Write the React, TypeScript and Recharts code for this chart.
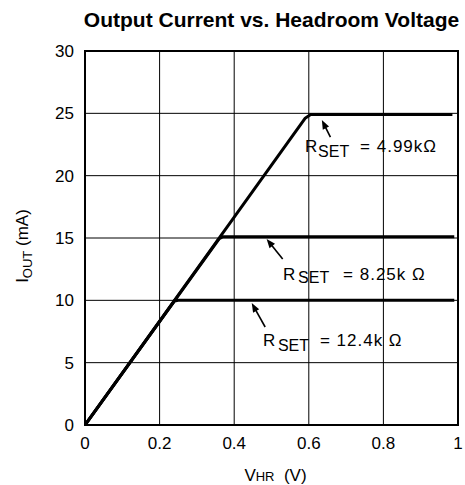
import React from 'react';
import {
  LineChart,
  Line,
  XAxis,
  YAxis,
  CartesianGrid,
  ReferenceArea,
  ReferenceLine,
  ReferenceDot,
} from 'recharts';

const FONT = '"Liberation Sans", Arial, Helvetica, sans-serif';

// Axis ticks
const xTicks = [0, 0.2, 0.4, 0.6, 0.8, 1];
const yTicks = [0, 5, 10, 15, 20, 25, 30];

// Series: headroom voltage (V) vs output current (mA)
const rset499 = [
  { v: 0, i: 0 },
  { v: 0.59, i: 24.6 },
  { v: 0.605, i: 24.9 },
  { v: 0.985, i: 24.9 },
];
const rset825 = [
  { v: 0, i: 0 },
  { v: 0.36, i: 14.95 },
  { v: 0.37, i: 15.1 },
  { v: 0.99, i: 15.1 },
];
const rset124 = [
  { v: 0, i: 0 },
  { v: 0.24, i: 9.95 },
  { v: 0.25, i: 10.0 },
  { v: 0.99, i: 10.0 },
];

// Annotation texts
const annValues = ['= 4.99k\u03A9', '= 8.25k \u03A9', '= 12.4k \u03A9'];
// Annotation anchors in data units
const annText = [
  { v: 0.59, i: 21.9 },
  { v: 0.531, i: 11.63 },
  { v: 0.477, i: 6.33 },
];
const annTail = [
  { v: 0.658, i: 23.1 },
  { v: 0.53, i: 13.31 },
  { v: 0.483, i: 7.86 },
];
const annTip = [
  { v: 0.635, i: 24.46 },
  { v: 0.487, i: 14.92 },
  { v: 0.447, i: 9.78 },
];
const annSetDx = [13, 15, 15];
const annEqDx = [55, 60, 57];
const annSetDy = [5, 3, 5];

const Arrow = (props: any) => {
  const { x1, y1, x2, y2 } = props;
  const dx = x2 - x1;
  const dy = y2 - y1;
  const len = Math.hypot(dx, dy) || 1;
  const ux = dx / len;
  const uy = dy / len;
  const hl = 9;
  const hw = 3.5;
  const bx = x2 - ux * hl;
  const by = y2 - uy * hl;
  const px = -uy;
  const py = ux;
  return (
    <g>
      <line x1={x1} y1={y1} x2={bx + ux * 2} y2={by + uy * 2} stroke="#000" strokeWidth={1.6} />
      <polygon
        points={`${x2},${y2} ${bx + px * hw},${by + py * hw} ${bx - px * hw},${by - py * hw}`}
        fill="#000"
      />
    </g>
  );
};

const makeAnnText = (idx: number) => (props: any) => {
  const { cx, cy } = props;
  return (
    <text fontFamily={FONT} fontSize={17} fill="#000">
      <tspan x={cx} y={cy}>R</tspan>
      <tspan x={cx + annSetDx[idx]} y={cy + annSetDy[idx]} fontSize={16}>SET</tspan>
      <tspan x={cx + annEqDx[idx]} y={cy} letterSpacing={1}>{annValues[idx]}</tspan>
    </text>
  );
};

const YLabel = (props: any) => {
  const vb = props.viewBox || {};
  const x = (vb.x ?? 0) + 28;
  const y = 246;
  return (
    <text
      transform={`translate(${x},${y}) rotate(-90)`}
      textAnchor="middle"
      fontFamily={FONT}
      fontSize={17}
      fill="#000"
    >
      <tspan>I</tspan>
      <tspan fontSize={13} dy={4}>OUT</tspan>
      <tspan dy={-4}>{'  (mA)'}</tspan>
    </text>
  );
};

const XLabel = (props: any) => {
  const vb = props.viewBox || {};
  const x = (vb.x ?? 0) + (vb.width ?? 0) / 2 + 4;
  return (
    <text x={x} y={481} textAnchor="middle" fontFamily={FONT} fontSize={17} fill="#000" xmlSpace="preserve">
      <tspan>V</tspan>
      <tspan fontSize={13}>HR</tspan>
      <tspan>{'  (V)'}</tspan>
    </text>
  );
};

const fmtX = (v: number) => (v === 0 ? '0' : v === 1 ? '1' : String(v));

export default function App() {
  return (
    <div style={{ position: 'absolute', left: 0, top: 0, width: 465, height: 485, background: '#fff' }}>
      <LineChart
        width={465}
        height={485}
        margin={{ top: 51, right: 7, left: 0, bottom: 0 }}
        style={{ position: 'absolute', left: 0, top: 0 }}
      >
        <CartesianGrid stroke="#000" strokeWidth={1} horizontalValues={yTicks} verticalValues={xTicks} />
        <XAxis
          type="number"
          dataKey="v"
          domain={[0, 1]}
          ticks={xTicks}
          tickFormatter={fmtX}
          height={60}
          tickLine={false}
          tickSize={0}
          tickMargin={12}
          axisLine={{ stroke: '#000', strokeWidth: 2 }}
          tick={{ fill: '#000', fontSize: 17, fontFamily: FONT }}
          allowDataOverflow
          label={{ content: XLabel }}
        />
        <YAxis
          type="number"
          dataKey="i"
          domain={[0, 30]}
          ticks={yTicks}
          width={85}
          tickLine={false}
          tickSize={0}
          tickMargin={11}
          axisLine={{ stroke: '#000', strokeWidth: 2 }}
          tick={{ fill: '#000', fontSize: 17, fontFamily: FONT }}
          allowDataOverflow
          label={{ content: YLabel }}
        />
        <ReferenceArea x1={0} x2={1} y1={0} y2={30} fill="none" stroke="#000" strokeWidth={2} ifOverflow="visible" />
        <Line data={rset124} dataKey="i" type="linear" stroke="#000" strokeWidth={3} dot={false} isAnimationActive={false} />
        <Line data={rset825} dataKey="i" type="linear" stroke="#000" strokeWidth={3} dot={false} isAnimationActive={false} />
        <Line data={rset499} dataKey="i" type="linear" stroke="#000" strokeWidth={3} dot={false} isAnimationActive={false} />
        {annTip.map((tip, k) => (
          <ReferenceLine
            key={`arr${k}`}
            segment={[
              { x: annTail[k].v, y: annTail[k].i },
              { x: tip.v, y: tip.i },
            ]}
            shape={Arrow}
            ifOverflow="visible"
          />
        ))}
        {annText.map((p, k) => (
          <ReferenceDot key={`txt${k}`} x={p.v} y={p.i} r={0} shape={makeAnnText(k)} ifOverflow="visible" />
        ))}
      </LineChart>
      <svg width={465} height={40} style={{ position: 'absolute', left: 0, top: 0, pointerEvents: 'none' }}>
        <text x={271.5} y={27} textAnchor="middle" fontFamily={FONT} fontWeight="bold" fontSize={21} fill="#000">
          Output Current vs. Headroom Voltage
        </text>
      </svg>
    </div>
  );
}
